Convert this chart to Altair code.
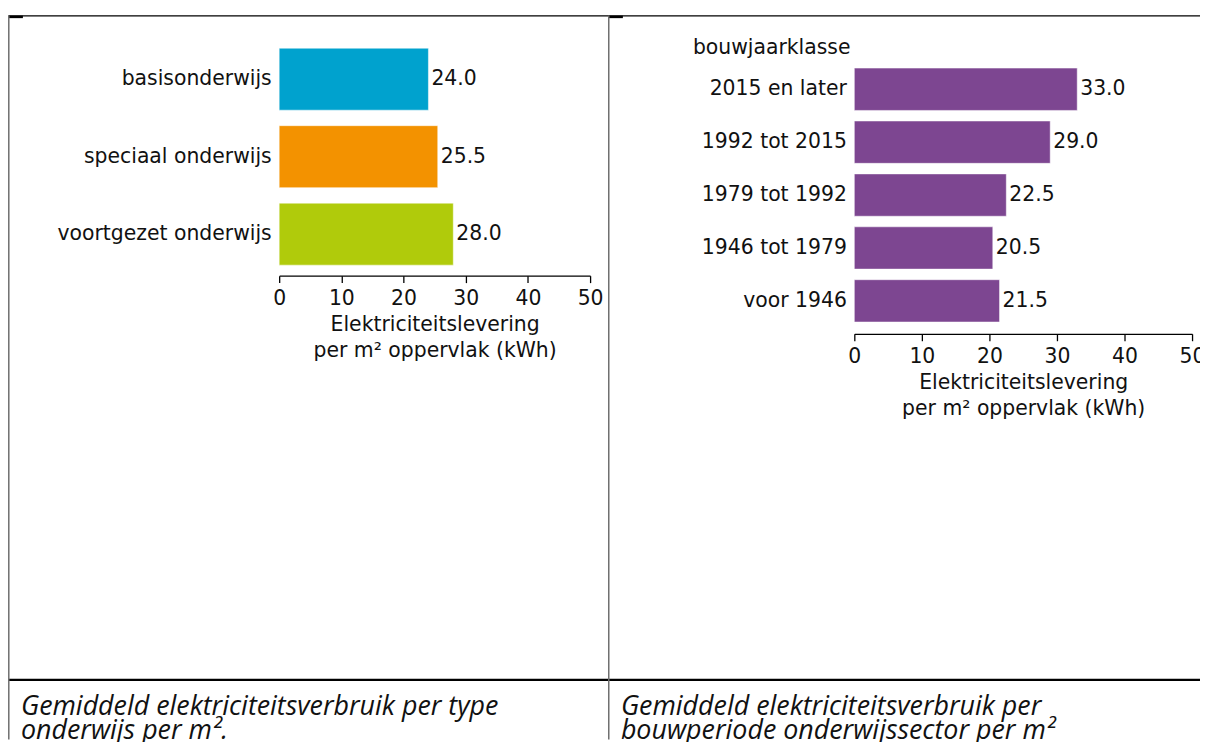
import altair as alt
import pandas as pd

# ---------------- data ----------------
onderwijs_types = ["basisonderwijs", "speciaal onderwijs", "voortgezet onderwijs"]
onderwijs_values = [24.0, 25.5, 28.0]
onderwijs_colors = ["#00A2CE", "#F39200", "#B0CB0B"]

bouwperiodes = ["2015 en later", "1992 tot 2015", "1979 tot 1992", "1946 tot 1979", "voor 1946"]
bouwperiode_values = [33.0, 29.0, 22.5, 20.5, 21.5]
bouwperiode_color = "#7D4691"

x_ticks = [0, 10, 20, 30, 40, 50]
x_domain = [0, 50]
axis_title = ["Elektriciteitslevering", "per m\u00b2 oppervlak (kWh)"]
y_title_right = "bouwjaarklasse"
caption_left = ["Gemiddeld elektriciteitsverbruik per type", "onderwijs per m\u00b2."]
caption_right = ["Gemiddeld elektriciteitsverbruik per", "bouwperiode onderwijssector per m\u00b2"]

# ---------------- layout ----------------
W, H = 1200, 734
FONT = "DejaVu Sans"
FS = 20.5
CAP_FONT = "Open Sans"
CAP_FS = 27


def x_axis(axis_y):
    return alt.Axis(values=x_ticks, orient="bottom", offset=axis_y - H, title=axis_title,
                    grid=False, domainColor="#000000", domainWidth=1.3, tickColor="#000000",
                    tickWidth=1.3, tickSize=7, labelPadding=6, labelFont=FONT, labelFontSize=FS,
                    labelColor="#111111", titleFont=FONT, titleFontSize=FS, titleFontWeight="normal",
                    titleColor="#111111", titlePadding=6, titleLineHeight=25.5, labelFlush=False,
                    labelOverlap=False)


def y_axis(axis_x, **kw):
    return alt.Axis(orient="left", offset=-axis_x, domain=False, ticks=False, tickSize=0,
                    labelPadding=8, labelFont=FONT, labelFontSize=FS, labelColor="#111111",
                    labelLimit=400, grid=False, **kw)


# left chart
df_left = pd.DataFrame({"type": onderwijs_types, "value": onderwijs_values})
base_left = alt.Chart(df_left).encode(
    x=alt.X("value:Q", scale=alt.Scale(domain=x_domain, range=[273, 586], nice=False, zero=True),
            axis=x_axis(267)),
    y=alt.Y("type:N", sort=onderwijs_types,
            scale=alt.Scale(domain=onderwijs_types, range=[30.2, 264.2], paddingInner=0.2, paddingOuter=0.1),
            axis=y_axis(273, title=None)),
)
bars_left = base_left.mark_bar(stroke="#ffffff", strokeWidth=1, strokeOpacity=0.5).encode(
    color=alt.Color("type:N", scale=alt.Scale(domain=onderwijs_types, range=onderwijs_colors), legend=None)
)
labels_left = base_left.mark_text(align="left", baseline="middle", dx=3, font=FONT, fontSize=FS,
                                  color="#111111").encode(text=alt.Text("value:Q", format=".1f"))
left = alt.layer(bars_left, labels_left)

# right chart
df_right = pd.DataFrame({"periode": bouwperiodes, "kwh": bouwperiode_values})
base_right = alt.Chart(df_right).encode(
    x=alt.X("kwh:Q", scale=alt.Scale(domain=x_domain, range=[852, 1192], nice=False, zero=True),
            axis=x_axis(325.5)),
    y=alt.Y("periode:N", sort=bouwperiodes,
            scale=alt.Scale(domain=bouwperiodes, range=[52.7, 319], paddingInner=0.2, paddingOuter=0.1),
            axis=y_axis(852, title=y_title_right, titleAngle=0, titleAlign="left", titleBaseline="middle",
                        titleX=-163, titleY=37, titleFont=FONT, titleFontSize=FS,
                        titleFontWeight="normal", titleColor="#111111")),
)
bars_right = base_right.mark_bar(color=bouwperiode_color, stroke="#ffffff", strokeWidth=1, strokeOpacity=0.5)
labels_right = base_right.mark_text(align="left", baseline="middle", dx=3, font=FONT, fontSize=FS,
                                    color="#111111").encode(text=alt.Text("kwh:Q", format=".1f"))
right = alt.layer(bars_right, labels_right)

# table borders and captions
one = pd.DataFrame({"k": [0]})


def hline(y, x1, x2, color, width):
    return alt.Chart(one).mark_rule(color=color, strokeWidth=width).encode(
        x=alt.value(x1), x2=alt.value(x2), y=alt.value(y))


def vline(x, y1, y2, color, width):
    return alt.Chart(one).mark_rule(color=color, strokeWidth=width).encode(
        x=alt.value(x), y=alt.value(y1), y2=alt.value(y2))


borders = [
    hline(5.5, 0.5, 1200, "#000000", 1.2),
    hline(6.5, 0.5, 15, "#000000", 2.5),
    hline(6.5, 604.5, 619, "#000000", 2.5),
    hline(674, 0.5, 1200, "#000000", 2.2),
    vline(0.8, 5, 734, "#6e6e6e", 1.5),
    vline(604.8, 5, 734, "#6e6e6e", 1.5),
]


def caption(x, lines):
    return alt.Chart(one).mark_text(text=lines, align="left", baseline="alphabetic", font=CAP_FONT,
                                    fontSize=CAP_FS, fontStyle="italic", lineHeight=24,
                                    color="#111111").encode(x=alt.value(x), y=alt.value(709))


chart = alt.layer(
    left, right, *borders, caption(13, caption_left), caption(617, caption_right)
).resolve_scale(x="independent", y="independent", color="independent").properties(
    width=W, height=H, autosize=alt.AutoSizeParams(type="none"), padding=0,
    background="#ffffff"
).configure_view(stroke=None)

chart.save("out.html", embed_options={"renderer": "svg", "actions": False})
